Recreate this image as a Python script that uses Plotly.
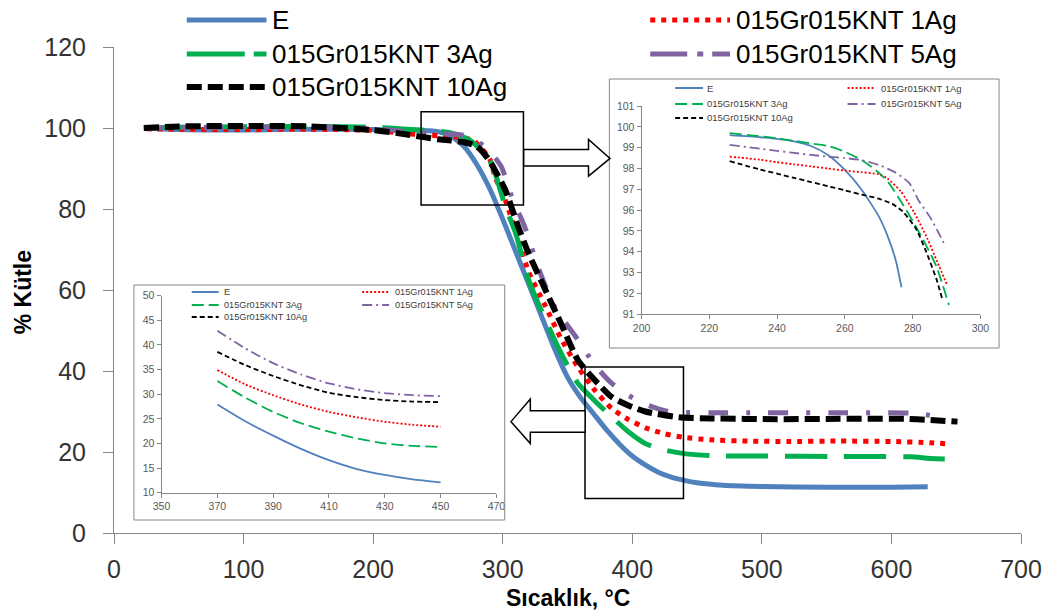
import plotly.graph_objects as go

# ---------------- series names ----------------
names = ["E", "015Gr015KNT 1Ag", "015Gr015KNT 3Ag", "015Gr015KNT 5Ag", "015Gr015KNT 10Ag"]

# ---------------- main TGA curves: temperature (°C) / mass (%) ----------------
e_t = [25, 50, 100, 150, 200, 230, 250, 260, 270, 280, 290, 300, 310, 320, 330, 340, 350, 360,
       370, 380, 390, 400, 410, 420, 430, 440, 450, 470, 500, 550, 600, 628]
e_m = [100, 99.6, 99.5, 99.7, 99.6, 99.5, 99.1, 98, 95.5, 91, 85, 77.5, 69.5, 61.5, 53.5, 45.5,
       38.5, 33.5, 29.5, 25.5, 22, 19, 16.8, 15, 13.8, 13, 12.4, 11.8, 11.5, 11.3, 11.3, 11.4]

ag1_t = [25, 50, 100, 150, 200, 226, 240, 250, 260, 270, 277, 282, 290, 294, 302, 312, 320, 333,
         345, 358, 371, 384, 397, 410, 425, 440, 460, 490, 520, 560, 600, 630, 644]
ag1_m = [99.8, 99.7, 99.6, 99.7, 99.4, 98.6, 98.3, 98.1, 97.9, 97.6, 96.9, 95.6, 92.3, 88, 82.2,
         72.5, 64.5, 56, 48, 41, 35.3, 30.8, 28, 26, 24.5, 23.6, 23, 22.7, 22.6, 22.7, 22.6, 22.3, 22.0]

ag3_t = [25, 50, 100, 150, 200, 226, 240, 250, 260, 270, 275, 280, 285, 291, 295, 302, 310, 320,
         333, 345, 358, 369, 384, 397, 410, 425, 440, 461, 500, 560, 615, 630, 651]
ag3_m = [100, 100.2, 100.3, 100.4, 100.2, 99.7, 99.45, 99.2, 98.8, 97.7, 96.9, 95.6, 94, 91.4, 88,
         80.6, 74, 62.5, 52.6, 44.4, 37, 33.3, 28.7, 25, 22.1, 20.5, 19.6, 19.1, 19, 18.9, 18.8, 18.4, 18.2]

ag5_t = [23, 50, 100, 150, 200, 226, 240, 250, 260, 270, 275, 282, 286, 290, 299, 307, 317, 328,
         340, 358, 371, 384, 397, 410, 425, 440, 460, 500, 560, 620, 640]
ag5_m = [100, 100.1, 100.2, 100.2, 99.9, 99.1, 98.85, 98.65, 98.5, 98.2, 97.8, 96.4, 95.3, 94.3,
         90.4, 83, 75.6, 65, 55.9, 47.7, 41.5, 37, 34, 31.8, 30.2, 29.8, 29.7, 29.7, 29.7, 29.5, 28.4]

ag10_t = [23, 50, 100, 150, 200, 226, 240, 250, 260, 270, 275, 280, 284, 288, 290, 294, 302, 312,
          320, 333, 346, 358, 371, 384, 397, 410, 435, 460, 512, 560, 610, 630, 651]
ag10_m = [100, 100.4, 100.5, 100.4, 99.5, 98.4, 97.7, 97.2, 96.9, 96.5, 96.1, 95.4, 94.3, 92.7,
          91.8, 89.6, 84.7, 75.6, 69, 60, 51, 42.7, 37.8, 33.6, 31.5, 30, 28.6, 28.3, 28.1, 28.2, 28.2, 27.9, 27.5]

main_t = [e_t, ag1_t, ag3_t, ag5_t, ag10_t]
main_m = [e_m, ag1_m, ag3_m, ag5_m, ag10_m]

# ---------------- detail 1: onset region 200-300 °C ----------------
d1_e_t = [226, 235, 240, 245, 250, 255, 260, 265, 270, 272.5, 275, 276.7]
d1_e_m = [99.6, 99.5, 99.42, 99.3, 99.08, 98.65, 97.93, 96.97, 95.7, 94.8, 93.6, 92.3]
d1_ag1_t = [226, 235, 240, 245, 250, 255, 260, 265, 270, 272.5, 276.5, 280.4, 284.3, 287.3, 290.2]
d1_ag1_m = [98.57, 98.42, 98.3, 98.2, 98.1, 98.0, 97.9, 97.82, 97.72, 97.53, 96.9, 95.9, 94.65, 93.5, 92.4]
d1_ag3_t = [226, 235, 240, 245, 250, 255, 260, 265, 270, 273, 277, 281, 284, 287, 290.7]
d1_ag3_m = [99.7, 99.55, 99.45, 99.33, 99.2, 99.08, 98.8, 98.4, 97.8, 97.3, 96.3, 95.2, 94.3, 93.3, 91.45]
d1_ag5_t = [226, 235, 240, 245, 250, 255, 260, 265, 270, 275, 279, 282, 285, 288, 289.7]
d1_ag5_m = [99.13, 98.95, 98.85, 98.75, 98.65, 98.57, 98.5, 98.4, 98.17, 97.8, 97.3, 96.4, 95.7, 94.8, 94.25]
d1_ag10_t = [226, 235, 240, 245, 250, 255, 260, 265, 270, 274, 277, 281, 284, 287, 288.7]
d1_ag10_m = [98.35, 97.95, 97.75, 97.55, 97.35, 97.15, 96.95, 96.75, 96.55, 96.3, 95.95, 95.1, 94.0, 92.7, 91.75]

d1_t = [d1_e_t, d1_ag1_t, d1_ag3_t, d1_ag5_t, d1_ag10_t]
d1_m = [d1_e_m, d1_ag1_m, d1_ag3_m, d1_ag5_m, d1_ag10_m]

# ---------------- detail 2: residue region 370-450 °C ----------------
d2_t = [370, 380, 390, 400, 410, 420, 430, 440, 450]
d2_e_m = [27.9, 24.5, 21.6, 18.9, 16.6, 14.8, 13.6, 12.7, 12.1]
d2_ag1_m = [34.9, 32.0, 29.8, 27.9, 26.4, 25.3, 24.4, 23.8, 23.4]
d2_ag3_m = [32.7, 29.3, 26.4, 24.1, 22.4, 21.0, 20.0, 19.5, 19.3]
d2_ag5_m = [42.9, 39.3, 36.3, 34.0, 32.2, 31.0, 30.2, 29.8, 29.6]
d2_ag10_m = [38.6, 35.9, 33.7, 31.8, 30.3, 29.4, 28.8, 28.5, 28.4]

d2_m = [d2_e_m, d2_ag1_m, d2_ag3_m, d2_ag5_m, d2_ag10_m]

# ---------------- styles ----------------
colors = ["#4F81BD", "#FF0000", "#00B050", "#8064A2", "#000000"]
main_width = [5, 5, 5, 5, 6]
main_dash = ["solid", "5px,6px", "42px,17px", "20px,18px,4px,18px", "15px,6px"]
main_key_dash = ["solid", "5px,6px", "58px,9px", "37px,10px,6px,9px", "15px,6px"]
small_dash = ["solid", "2px,2px", "12px,5px", "10px,4px,2px,4px", "5px,3px"]

FONT = "Liberation Sans, Arial, sans-serif"
AXIS_GREY = "#868686"

W, H = 1054, 615
ML, MR, MT, MB = 114, 30, 47, 82
PW, PH = W - ML - MR, H - MT - MB


def px(x):
    """pixel column -> paper x"""
    return (x - ML) / PW


def py(y):
    """pixel row -> paper y"""
    return (H - MB - y) / PH


fig = go.Figure()

# main curves
for i, n in enumerate(names):
    fig.add_trace(go.Scatter(
        x=main_t[i], y=main_m[i], name=n, mode="lines", showlegend=False,
        line=dict(color=colors[i], width=main_width[i], dash=main_dash[i], shape="spline", smoothing=0.6),
        xaxis="x", yaxis="y"))

# detail 1
for i, n in enumerate(names):
    fig.add_trace(go.Scatter(
        x=d1_t[i], y=d1_m[i], name=n, mode="lines", showlegend=False,
        line=dict(color=colors[i], width=1.8, dash=small_dash[i], shape="spline", smoothing=0.6),
        xaxis="x2", yaxis="y2"))

# detail 2
for i, n in enumerate(names):
    fig.add_trace(go.Scatter(
        x=d2_t, y=d2_m[i], name=n, mode="lines", showlegend=False,
        line=dict(color=colors[i], width=1.8, dash=small_dash[i], shape="spline", smoothing=0.6),
        xaxis="x3", yaxis="y3"))

shapes = []
annotations = []

# inset frames
for (x0, y0, x1, y1) in [(611, 79, 1002, 348), (134, 285, 506, 520)]:
    shapes.append(dict(type="rect", xref="paper", yref="paper",
                       x0=px(x0), x1=px(x1), y0=py(y1), y1=py(y0),
                       line=dict(color=AXIS_GREY, width=1), fillcolor="rgba(0,0,0,0)"))

# zoom boxes on the main curve (data coordinates)
shapes.append(dict(type="rect", xref="x", yref="y", x0=237, x1=316, y0=81, y1=104,
                   line=dict(color="black", width=1.5)))
shapes.append(dict(type="rect", xref="x", yref="y", x0=363.5, x1=439.5, y0=8.5, y1=41,
                   line=dict(color="black", width=1.5)))


def poly(pts):
    return "M " + " L ".join(f"{a},{b}" for a, b in pts) + " Z"


# block arrows pointing to the detail panels
arrow_right = [(316.2, 94.7), (366.2, 94.7), (366.2, 97.2), (382.8, 92.5),
               (366.2, 88.1), (366.2, 90.6), (316.2, 90.6)]
arrow_left = [(363.6, 30.2), (321.3, 30.2), (321.3, 33.1), (306.4, 27.5),
              (321.3, 22.1), (321.3, 24.9), (363.6, 24.9)]
for pts in (arrow_right, arrow_left):
    shapes.append(dict(type="path", xref="x", yref="y", path=poly(pts),
                       line=dict(color="black", width=1.5), fillcolor="white"))


# legends: index i -> column i % 2, row i // 2
def add_key(col_x, key_len, text_x, rows, size, widths, dashes, text_color):
    for i, n in enumerate(names):
        c, r = i % 2, i // 2
        y = rows[r]
        shapes.append(dict(type="line", xref="paper", yref="paper",
                           x0=px(col_x[c]), x1=px(col_x[c] + key_len), y0=py(y), y1=py(y),
                           line=dict(color=colors[i], width=widths[i], dash=dashes[i])))
        annotations.append(dict(xref="paper", yref="paper", x=px(text_x[c]), y=py(y),
                                text=n, showarrow=False, xanchor="left", yanchor="middle",
                                font=dict(family=FONT, size=size, color=text_color)))


add_key([187, 652], 80, [271, 736], [20, 54, 87], 26, main_width, main_key_dash, "#000000")
add_key([677, 850], 28, [707, 882], [88, 104, 118], 9.5, [2] * 5, small_dash, "#404040")
add_key([192, 363], 27, [222, 394], [292, 305, 317], 9.2, [2] * 5, small_dash, "#404040")

# axis titles
annotations.append(dict(xref="paper", yref="paper", x=px(569), y=py(598), text="<b>Sıcaklık, °C</b>",
                        showarrow=False, xanchor="center", yanchor="middle",
                        font=dict(family=FONT, size=23, color="#000000")))
annotations.append(dict(xref="paper", yref="paper", x=px(23), y=py(292), text="<b>% Kütle</b>",
                        showarrow=False, xanchor="center", yanchor="middle", textangle=-90,
                        font=dict(family=FONT, size=23, color="#000000")))

main_axis = dict(showline=True, linecolor=AXIS_GREY, linewidth=1, ticks="outside", ticklen=10,
                 tickcolor=AXIS_GREY, showgrid=False, zeroline=False,
                 tickfont=dict(family=FONT, size=25, color="#333333"))
small_axis = dict(showline=True, linecolor=AXIS_GREY, linewidth=1, ticks="outside", ticklen=4,
                  tickcolor=AXIS_GREY, showgrid=False, zeroline=False,
                  tickfont=dict(family=FONT, size=10.5, color="#595959"))

fig.update_layout(
    width=W, height=H, margin=dict(l=ML, r=MR, t=MT, b=MB),
    paper_bgcolor="white", plot_bgcolor="white", showlegend=False,
    xaxis=dict(main_axis, domain=[0, 1], range=[0, 700], tick0=0, dtick=100, ticklabelstandoff=4),
    yaxis=dict(main_axis, domain=[0, 1], range=[0, 120], tick0=0, dtick=20, ticklabelstandoff=12),
    xaxis2=dict(small_axis, domain=[px(643.3), px(983.3)], anchor="y2", range=[200, 300],
                tick0=200, dtick=20),
    yaxis2=dict(small_axis, domain=[py(314.3), py(106)], anchor="x2", range=[91, 101],
                tick0=91, dtick=1),
    xaxis3=dict(small_axis, domain=[px(161.7), px(497.7)], anchor="y3", range=[350, 470],
                tick0=350, dtick=20),
    yaxis3=dict(small_axis, domain=[py(492.7), py(295.7)], anchor="x3", range=[10, 50],
                tick0=10, dtick=5),
    shapes=shapes, annotations=annotations,
)

fig.write_html("out.html")
